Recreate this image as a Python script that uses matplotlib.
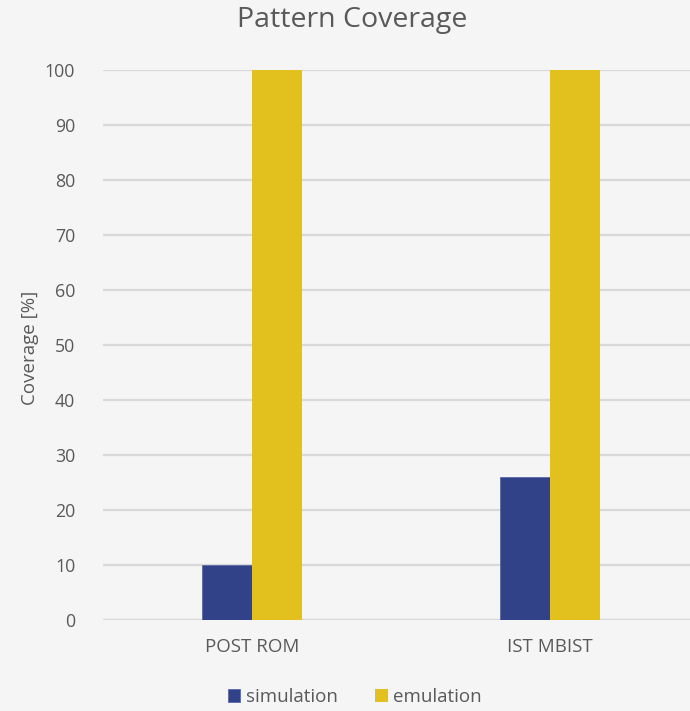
import matplotlib
matplotlib.use("Agg")
import matplotlib.pyplot as plt
import numpy as np

categories = ["POST ROM", "IST MBIST"]
simulation = [10, 26]
emulation = [100, 100]
yticks = list(range(0, 101, 10))

plt.rcParams['font.family'] = ['Open Sans', 'DejaVu Sans']

W, H = 690, 711
fig = plt.figure(figsize=(W / 100, H / 100), dpi=100)
fig.patch.set_facecolor('#F5F5F5')

left_px, right_px = 103, 690
top_px, bottom_px = 70, 620
ax = fig.add_axes([left_px / W, 1 - bottom_px / H, (right_px - left_px) / W, (bottom_px - top_px) / H])
ax.set_facecolor('none')

x = np.arange(len(categories))
bw = 0.168
ax.bar(x - bw / 2, simulation, bw, color='#324289', edgecolor='#5a68a8', linewidth=0.6, label='simulation', zorder=3)
ax.bar(x + bw / 2, emulation, bw, color='#E2C01E', label='emulation', zorder=3)

ax.set_xlim(-0.5, 1.47)
ax.set_ylim(0, 100)
ax.set_yticks(yticks)
ax.yaxis.grid(True, color='#D9D9D9', linewidth=1.6, zorder=0)
ax.set_axisbelow(True)
for s in ax.spines.values():
    s.set_visible(False)
ax.axhline(0, color='#D9D9D9', linewidth=1.6, zorder=1)
ax.tick_params(axis='y', length=0, labelsize=12.8, labelcolor='#595959', pad=20)
ax.tick_params(axis='x', length=0, labelsize=13.5, labelcolor='#595959', pad=13)
ax.set_xticks(x)
ax.set_xticklabels(categories)

fig.text(352 / W, 1 - 20 / H, "Pattern Coverage", ha='center', va='center', fontsize=20.5, color='#595959')
fig.text(30 / W, 1 - 348 / H, "Coverage [%]", ha='center', va='center', rotation=90, fontsize=13.5, color='#595959')

leg = fig.legend(loc='center', bbox_to_anchor=(355 / W, 1 - 697 / H), ncol=2, frameon=False,
                 fontsize=13.5, handlelength=0.65, handleheight=0.65, handletextpad=0.3, columnspacing=2.0)
for t in leg.get_texts():
    t.set_color('#595959')

fig.savefig("out.png", dpi=100, facecolor=fig.get_facecolor())
